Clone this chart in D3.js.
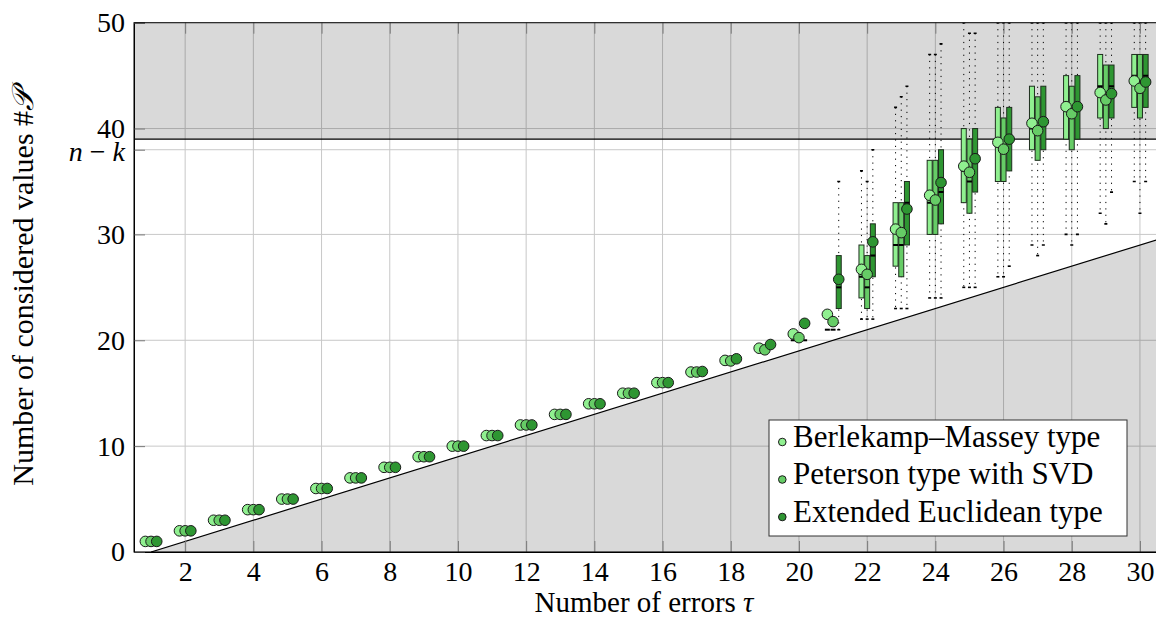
<!DOCTYPE html>
<html>
<head>
<meta charset="utf-8">
<script src="https://cdn.jsdelivr.net/npm/d3@7"></script>
<style>
  body { margin: 0; background: #fff; }
  svg { display: block; }
</style>
</head>
<body>
<svg id="chart"></svg>
<script>
// number of errors
const taus = [1,2,3,4,5,6,7,8,9,10,11,12,13,14,15,16,17,18,19,20,21,22,23,24,25,26,27,28,29,30];

// mean number of considered values (circles)
const meanBM = [1,2,3,4,5,6,7,8,9,10,11,12,13,14,15,16,17,18.1,19.25,20.6,22.45,26.7,30.5,33.7,36.45,38.7,40.5,42.07,43.4,44.5];
const meanPT = [1,2,3,4,5,6,7,8,9,10,11,12,13,14,15,16,17,18.05,19.1,20.25,21.76,26.23,30.17,33.25,35.87,38.05,39.8,41.4,42.7,43.8];
const meanEE = [1,2,3,4,5,6,7,8,9,10,11,12,13,14,15,16,17.05,18.25,19.6,21.6,25.76,29.3,32.4,34.9,37.15,39,40.65,42.07,43.3,44.4];

// box plots, tau = 20..30
const boxTaus = [20,21,22,23,24,25,26,27,28,29,30];

const q1BM  = [20,21,24,27,30,33,35,38,39,41,42];
const medBM = [20,21,26,29,33,36,39,40,42,44,45];
const q3BM  = [20,21,29,33,37,40,42,44,45,47,47];
const minBM = [20,21,22,23,24,25,26,29,30,32,35];
const maxBM = [20,21,36,42,47,50,50,50,50,50,50];

const q1PT  = [20,21,23,26,30,32,35,37,38,40,41];
const medPT = [20,21,25,29,33,35,38,40,41,43,44];
const q3PT  = [20,21,28,33,37,39,41,43,44,46,47];
const minPT = [20,21,22,23,24,25,26,28,29,31,32];
const maxPT = [20,21,35,43,47,49,50,50,50,50,50];

const q1EE  = [20,23,26,29,31,34,36,38,39,41,42];
const medEE = [20,25,28,33,34,37,39,41,42,44,45];
const q3EE  = [20,28,31,35,38,40,42,44,45,46,47];
const minEE = [20,21,22,23,24,25,27,29,30,34,35];
const maxEE = [20,35,38,44,48,49,50,50,50,50,50];

const seriesNames = ["Berlekamp–Massey type", "Peterson type with SVD", "Extended Euclidean type"];
const seriesColors = ["#90f090", "#66cc66", "#2e9632"];

const xTicks = [2,4,6,8,10,12,14,16,18,20,22,24,26,28,30];
const yTicks = [0,10,20,30,38,40,50];
const nkValue = 38;      // tick "n - k"
const upperBound = 39;   // shaded above
const lowerLineX = [1, 30.5];
const lowerLineY = [0, 29.5];

const FONT = '"Liberation Serif", "DejaVu Serif", serif';

const width = 1156, height = 623;
const pLeft = 134, pRight = 1157, pTop = 22.7, pBottom = 552;

const svg = d3.select("#chart").attr("width", width).attr("height", height);

const x = d3.scaleLinear().domain([0.5, 30.5]).range([pLeft, pRight]);
const y = d3.scaleLinear().domain([0, 50]).range([pBottom, pTop]);

svg.append("defs").append("clipPath").attr("id", "clip")
   .append("rect").attr("x", pLeft).attr("y", pTop).attr("width", pRight - pLeft).attr("height", pBottom - pTop);

const plot = svg.append("g").attr("clip-path", "url(#clip)");

// grid
plot.selectAll(".vgrid").data(xTicks).enter().append("line")
    .attr("x1", d => x(d)).attr("x2", d => x(d))
    .attr("y1", pTop).attr("y2", pBottom)
    .attr("stroke", "#c8c8c8").attr("stroke-width", 1);
plot.selectAll(".hgrid").data(yTicks).enter().append("line")
    .attr("x1", pLeft).attr("x2", pRight)
    .attr("y1", d => y(d)).attr("y2", d => y(d))
    .attr("stroke", "#c8c8c8").attr("stroke-width", 1);

// shaded regions
plot.append("rect")
    .attr("x", pLeft).attr("y", y(50)).attr("width", pRight - pLeft).attr("height", y(upperBound) - y(50))
    .attr("fill", "#000").attr("fill-opacity", 0.15);
const lowerPts = [[lowerLineX[0], lowerLineY[0]], [lowerLineX[1], lowerLineY[1]], [lowerLineX[1], 0]];
plot.append("path")
    .attr("d", d3.line().x(d => x(d[0])).y(d => y(d[1]))(lowerPts) + "Z")
    .attr("fill", "#000").attr("fill-opacity", 0.15);
plot.append("line")
    .attr("x1", pLeft).attr("x2", pRight).attr("y1", y(upperBound)).attr("y2", y(upperBound))
    .attr("stroke", "#000").attr("stroke-width", 1.2);
plot.append("line")
    .attr("x1", x(lowerLineX[0])).attr("y1", y(lowerLineY[0]))
    .attr("x2", x(lowerLineX[1])).attr("y2", y(lowerLineY[1]))
    .attr("stroke", "#000").attr("stroke-width", 1.2);

// series tables built from the arrays
const series = [
  { mean: meanBM, q1: q1BM, med: medBM, q3: q3BM, lo: minBM, hi: maxBM },
  { mean: meanPT, q1: q1PT, med: medPT, q3: q3PT, lo: minPT, hi: maxPT },
  { mean: meanEE, q1: q1EE, med: medEE, q3: q3EE, lo: minEE, hi: maxEE }
];
const offsets = [-1/6, 0, 1/6];
const boxW = 5;

// whiskers (dotted) with small end caps
series.forEach(function(s, k) {
  const rows = boxTaus.map((t, i) => ({ t: t, lo: s.lo[i], hi: s.hi[i] })).filter(d => d.hi > d.lo);
  const g = plot.append("g");
  const cx = d => x(d.t + offsets[k]);
  g.selectAll(".wh").data(rows).enter().append("line")
   .attr("x1", cx).attr("x2", cx)
   .attr("y1", d => y(d.hi)).attr("y2", d => y(d.lo))
   .attr("stroke", "#000").attr("stroke-width", 1)
   .attr("stroke-dasharray", "1.2 5.2");
  ["hi", "lo"].forEach(function(f) {
    g.selectAll(".cap-" + f).data(rows).enter().append("line")
     .attr("x1", d => cx(d) - 1.5).attr("x2", d => cx(d) + 1.5)
     .attr("y1", d => y(d[f])).attr("y2", d => y(d[f]))
     .attr("stroke", "#000").attr("stroke-width", 1.6);
  });
});

// boxes and medians
series.forEach(function(s, k) {
  const rows = boxTaus.map((t, i) => ({ t: t, q1: s.q1[i], med: s.med[i], q3: s.q3[i] }));
  const g = plot.append("g");
  const cx = d => x(d.t + offsets[k]);
  g.selectAll("rect").data(rows.filter(d => d.q3 > d.q1)).enter().append("rect")
   .attr("x", d => cx(d) - boxW / 2).attr("width", boxW)
   .attr("y", d => y(d.q3)).attr("height", d => y(d.q1) - y(d.q3))
   .attr("fill", seriesColors[k]).attr("stroke", "#1e2e1e").attr("stroke-width", 1);
  g.selectAll(".med").data(rows).enter().append("line")
   .attr("x1", d => cx(d) - boxW / 2).attr("x2", d => cx(d) + boxW / 2)
   .attr("y1", d => y(d.med)).attr("y2", d => y(d.med))
   .attr("stroke", "#000").attr("stroke-width", 2);
});

// means
series.forEach(function(s, k) {
  plot.append("g").selectAll("circle").data(taus.map((t, i) => ({ t: t, v: s.mean[i] })))
      .enter().append("circle")
      .attr("cx", d => x(d.t + offsets[k])).attr("cy", d => y(d.v)).attr("r", 5.3)
      .attr("fill", seriesColors[k]).attr("stroke", "#1a1a1a").attr("stroke-width", 1);
});

// axes
const xAxis = svg.append("g").attr("transform", "translate(0," + pBottom + ")")
   .call(d3.axisBottom(x).tickValues(xTicks).tickSize(-11).tickFormat(d3.format("d")));
xAxis.selectAll("text").attr("y", 29).attr("dy", 0);

svg.append("g").attr("transform", "translate(0," + pTop + ")")
   .call(d3.axisTop(x).tickValues(xTicks).tickSize(-11).tickFormat(""))
   .select(".domain").remove();

const yAxis = svg.append("g").attr("transform", "translate(" + pLeft + ",0)")
   .call(d3.axisLeft(y).tickValues(yTicks).tickSize(-11).tickPadding(9));
yAxis.selectAll("text").attr("dy", "0.32em")
   .each(function(d) {
     if (d === nkValue) {
       const t = d3.select(this).text(null).attr("dy", "0.38em");
       t.append("tspan").style("font-style", "italic").text("n");
       t.append("tspan").text(" − ");
       t.append("tspan").style("font-style", "italic").text("k");
     }
   });

svg.selectAll(".tick text").style("font-family", FONT).style("font-size", "28px");
svg.selectAll(".tick line").attr("stroke", "#7a7a7a");
svg.selectAll(".domain").attr("stroke", "#000");

// frame
svg.append("rect").attr("x", pLeft).attr("y", pTop).attr("width", pRight - pLeft).attr("height", pBottom - pTop)
   .attr("fill", "none").attr("stroke", "#000").attr("stroke-width", 1);

// axis labels
const xl = svg.append("text").attr("x", (pLeft + 1156) / 2 - 1).attr("y", 612)
   .attr("text-anchor", "middle").style("font-family", FONT).style("font-size", "29px");
xl.append("tspan").text("Number of errors ");
xl.append("tspan").style("font-style", "italic").text("τ");

const yl = svg.append("text").attr("transform", "translate(33," + ((pTop + pBottom) / 2) + ") rotate(-90)")
   .attr("text-anchor", "middle").style("font-family", FONT).style("font-size", "30px");
yl.append("tspan").text("Number of considered values #");
yl.append("tspan").style("font-style", "italic").text("𝒫");

// legend
const leg = svg.append("g");
leg.append("rect").attr("x", 769).attr("y", 420).attr("width", 358).attr("height", 116)
   .attr("fill", "#fff").attr("stroke", "#333").attr("stroke-width", 1);
const rowsLeg = leg.selectAll(".entry").data(seriesNames).enter().append("g")
   .attr("transform", (d, i) => "translate(0," + (446.5 + i * 37.5) + ")");
rowsLeg.append("circle").attr("cx", 782.3).attr("cy", -4.5).attr("r", 3.8)
   .attr("fill", (d, i) => seriesColors[i]).attr("stroke", "#1a1a1a").attr("stroke-width", 1);
rowsLeg.append("text").attr("x", 793).attr("y", 0)
   .style("font-family", FONT).style("font-size", "31px").text(d => d);
</script>
</body>
</html>
